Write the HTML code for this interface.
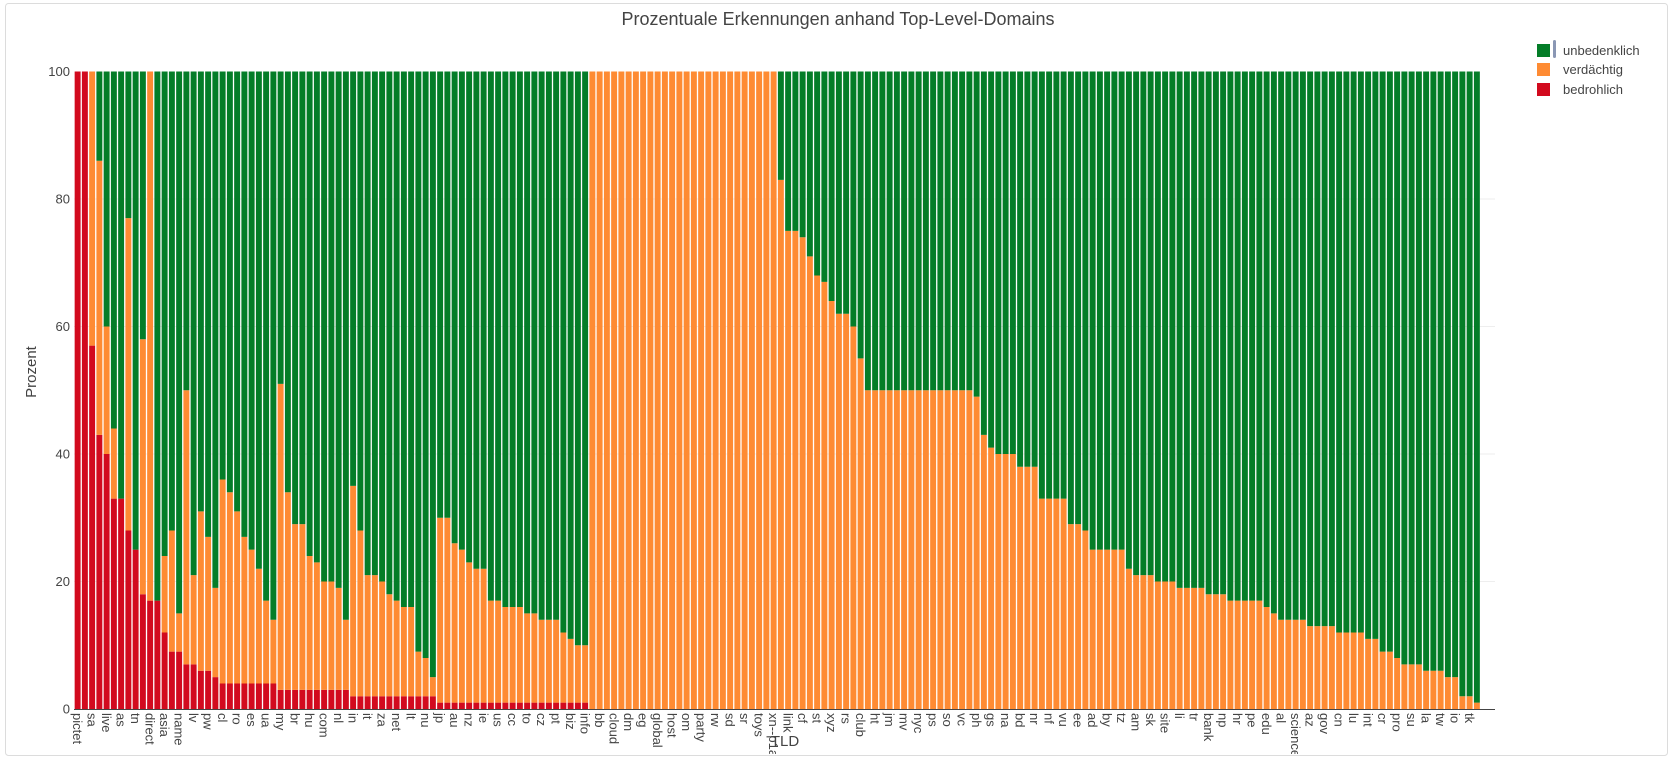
<!DOCTYPE html>
<html><head><meta charset="utf-8"><style>
body{margin:0;background:#fff;}
svg{display:block;font-family:"Liberation Sans",sans-serif;}
</style></head><body>
<svg id="chart" width="1674" height="762">
<defs><clipPath id="clipb"><rect x="0" y="0" width="1674" height="754"/></clipPath></defs>
<rect x="5.5" y="3.5" width="1662" height="752" rx="3" fill="#fff" stroke="#dcdcdc"/>
<text x="838" y="25" text-anchor="middle" font-size="18" fill="#444">Prozentuale Erkennungen anhand Top-Level-Domains</text>
<g id="grid"></g><g id="bars"></g><g id="yticks"></g><g id="xticks" clip-path="url(#clipb)"></g>
<line x1="74" y1="709.5" x2="1495" y2="709.5" stroke="#444" stroke-width="1"/>
<text transform="translate(36,372) rotate(-90)" text-anchor="middle" font-size="15" fill="#444">Prozent</text>
<text x="785" y="746" text-anchor="middle" font-size="15" fill="#444">TLD</text>
<g>
<g><rect x="1537" y="44" width="13" height="13" fill="#047d28"/><rect x="1553" y="40" width="3" height="18" rx="1.5" fill="#8a97b4"/><text x="1563" y="55" font-size="13" fill="#444">unbedenklich</text></g>
<g><rect x="1537" y="63" width="13" height="13" fill="#fe8b33"/><text x="1563" y="74" font-size="13" fill="#444">verdächtig</text></g>
<g><rect x="1537" y="83" width="13" height="13" fill="#d20a1e"/><text x="1563" y="94" font-size="13" fill="#444">bedrohlich</text></g>
</g>
</svg>
<script>
const tickLabels=["pictet","sa","live","as","tn","direct","asia","name","lv","pw","cl","ro","es","ua","my","br","hu","com","nl","in","it","za","net","lt","nu","jp","au","nz","ie","us","cc","to","cz","pt","biz","info","bb","cloud","dm","eg","global","host","om","party","rw","sd","sr","toys","xn--p1ai","link","cf","st","xyz","rs","club","ht","jm","mv","nyc","ps","so","vc","ph","gs","na","bd","nr","nf","vu","ee","ad","by","tz","am","sk","site","li","tr","bank","np","hr","pe","edu","al","science","az","gov","cn","lu","int","cr","pro","su","la","tw","io","tk"];
const yTicks=[0,20,40,60,80,100];
const bedrohlich=[100,100,57,43,40,33,33,28,25,18,17,17,12,9,9,7,7,6,6,5,4,4,4,4,4,4,4,4,3,3,3,3,3,3,3,3,3,3,2,2,2,2,2,2,2,2,2,2,2,2,1,1,1,1,1,1,1,1,1,1,1,1,1,1,1,1,1,1,1,1,1,0,0,0,0,0,0,0,0,0,0,0,0,0,0,0,0,0,0,0,0,0,0,0,0,0,0,0,0,0,0,0,0,0,0,0,0,0,0,0,0,0,0,0,0,0,0,0,0,0,0,0,0,0,0,0,0,0,0,0,0,0,0,0,0,0,0,0,0,0,0,0,0,0,0,0,0,0,0,0,0,0,0,0,0,0,0,0,0,0,0,0,0,0,0,0,0,0,0,0,0,0,0,0,0,0,0,0,0,0,0,0,0,0,0,0,0,0,0,0,0,0,0,0,0,0];
const verdaechtig=[0,0,43,43,20,11,0,49,0,40,83,0,12,19,6,43,14,25,21,14,32,30,27,23,21,18,13,10,48,31,26,26,21,20,17,17,16,11,33,26,19,19,18,16,15,14,14,7,6,3,29,29,25,24,22,21,21,16,16,15,15,15,14,14,13,13,13,11,10,9,9,100,100,100,100,100,100,100,100,100,100,100,100,100,100,100,100,100,100,100,100,100,100,100,100,100,100,83,75,75,74,71,68,67,64,62,62,60,55,50,50,50,50,50,50,50,50,50,50,50,50,50,50,50,49,43,41,40,40,40,38,38,38,33,33,33,33,29,29,28,25,25,25,25,25,22,21,21,21,20,20,20,19,19,19,19,18,18,18,17,17,17,17,17,16,15,14,14,14,14,13,13,13,13,12,12,12,12,11,11,9,9,8,7,7,7,6,6,6,5,5,2,2,1];
const unbedenklich=[0,0,0,14,40,56,67,23,75,42,0,83,76,72,85,50,79,69,73,81,64,66,69,73,75,78,83,86,49,66,71,71,76,77,80,80,81,86,65,72,79,79,80,82,83,84,84,91,92,95,70,70,74,75,77,78,78,83,83,84,84,84,85,85,86,86,86,88,89,90,90,0,0,0,0,0,0,0,0,0,0,0,0,0,0,0,0,0,0,0,0,0,0,0,0,0,0,17,25,25,26,29,32,33,36,38,38,40,45,50,50,50,50,50,50,50,50,50,50,50,50,50,50,50,51,57,59,60,60,60,62,62,62,67,67,67,67,71,71,72,75,75,75,75,75,78,79,79,79,80,80,80,81,81,81,81,82,82,82,83,83,83,83,83,84,85,86,86,86,86,87,87,87,87,88,88,88,88,89,89,91,91,92,93,93,93,94,94,94,95,95,98,98,99];
const NS="http://www.w3.org/2000/svg";
const X0=74,X1=1495,Y0=709,Y100=71.5;
const n=bedrohlich.length,pitch=(X1-X0)/n,bw=pitch-1.3;
const xPos=i=>X0+i*pitch+0.65;
const yPos=v=>Y0-(v/100)*(Y0-Y100);
const grid=document.getElementById('grid'),bars=document.getElementById('bars'),yt=document.getElementById('yticks'),xt=document.getElementById('xticks');
yTicks.forEach(t=>{
 if(t>0&&t<100){const l=document.createElementNS(NS,'line');l.setAttribute('x1',X0);l.setAttribute('x2',X1);l.setAttribute('y1',yPos(t));l.setAttribute('y2',yPos(t));l.setAttribute('stroke','#eee');
 
 
 grid.appendChild(l);}
 const tx=document.createElementNS(NS,'text');tx.setAttribute('x',X0-4);tx.setAttribute('y',yPos(t)+4.5);tx.setAttribute('text-anchor','end');tx.setAttribute('font-size','13');tx.setAttribute('fill','#444');tx.textContent=t;
 
 
 yt.appendChild(tx);
});
const series=[[bedrohlich,'#d20a1e','bar-bedrohlich'],[verdaechtig,'#fe8b33','bar-verdaechtig'],[unbedenklich,'#047d28','bar-unbedenklich']];
for(let i=0;i<n;i++){
 let base=0;
 series.forEach(([arr,col,nm])=>{
  const v=arr[i];if(v<=0)return;
  const r=document.createElementNS(NS,'rect');
  r.setAttribute('x',xPos(i));r.setAttribute('width',bw);
  r.setAttribute('y',yPos(base+v));r.setAttribute('height',yPos(base)-yPos(base+v));
  r.setAttribute('fill',col);
  
  
  bars.appendChild(r);base+=v;
 });
}
tickLabels.forEach((lb,k)=>{
 const i=k*2;const cx=X0+(i+0.5)*pitch;
 const tx=document.createElementNS(NS,'text');
 tx.setAttribute('transform','translate('+(cx-4.5)+',713) rotate(90)');
 tx.setAttribute('font-size','13');tx.setAttribute('fill','#444');tx.textContent=lb;
 
 
 xt.appendChild(tx);
});
</script>
</body></html>
